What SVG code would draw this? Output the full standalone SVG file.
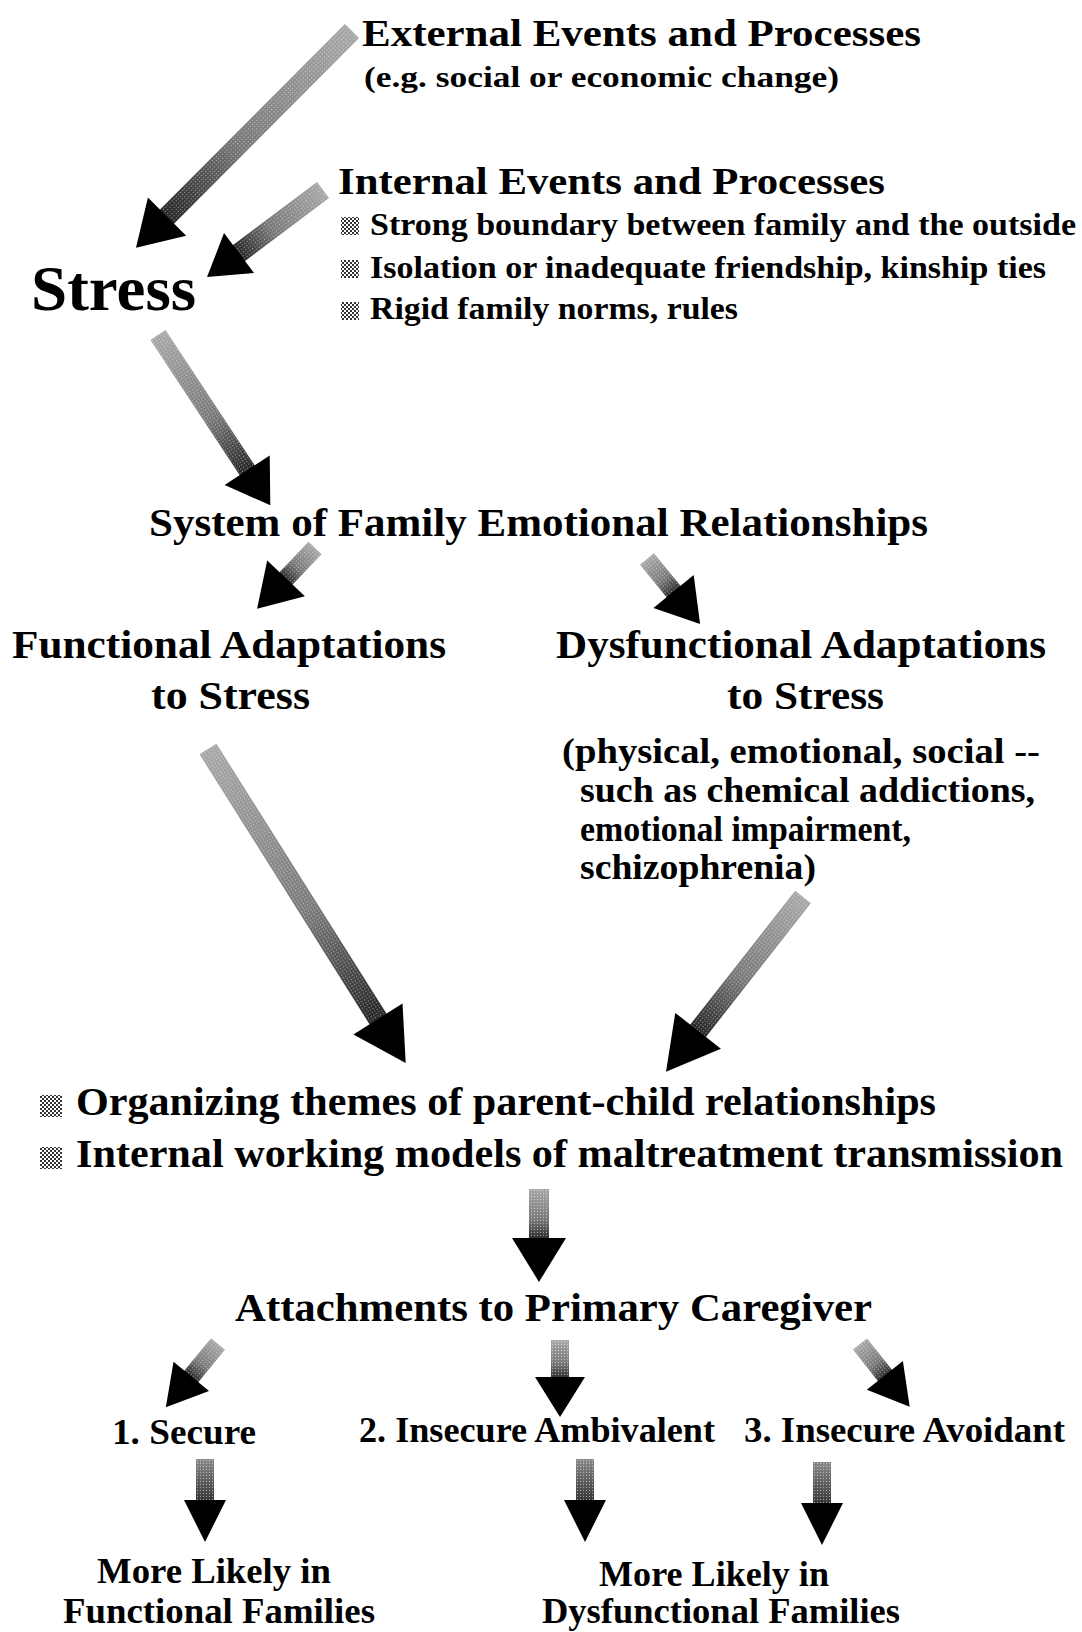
<svg xmlns="http://www.w3.org/2000/svg" width="1082" height="1632" viewBox="0 0 1082 1632">
<style>
text{font-family:"Liberation Serif","Times New Roman",serif;font-weight:bold;fill:#000}
.head{fill:#000}
.shaft{fill:url(#shaftGrad)}
.flat{fill:url(#flatGrad)}
.dots{fill:url(#dots)}
.bul{fill:url(#check)}
</style>
<defs>
<linearGradient id="shaftGrad" x1="0" y1="0" x2="1" y2="0">
<stop offset="0" stop-color="#a8a8a8"/>
<stop offset="0.6" stop-color="#7a7a7a"/>
<stop offset="1" stop-color="#262626"/>
</linearGradient>
<linearGradient id="flatGrad" x1="0" y1="0" x2="1" y2="0">
<stop offset="0" stop-color="#8a8a8a"/>
<stop offset="1" stop-color="#333"/>
</linearGradient>
<pattern id="dots" width="3" height="3" patternUnits="userSpaceOnUse">
<circle cx="1.5" cy="1.5" r="0.6" fill="#fff" fill-opacity="0.6"/>
</pattern>
<pattern id="check" width="4" height="4" patternUnits="userSpaceOnUse">
<rect width="4" height="4" fill="#fff"/>
<rect width="2" height="2" fill="#333"/>
<rect x="2" y="2" width="2" height="2" fill="#333"/>
</pattern>
</defs>

<g id="connectors">
<!-- External -> Stress -->
<g transform="translate(352,31) rotate(134.9)">
<rect class="shaft" x="0" y="-10" width="264" height="20"/><rect class="dots" x="0" y="-10" width="264" height="20"/>
<polygon class="head" points="262,-27 306,0 262,27"/>
</g>
<!-- Internal -> Stress -->
<g transform="translate(323,190) rotate(143.1)">
<rect class="shaft" x="0" y="-10" width="107" height="20"/><rect class="dots" x="0" y="-10" width="107" height="20"/>
<polygon class="head" points="105,-25 145,0 105,25"/>
</g>
<!-- Stress -> System -->
<g transform="translate(158,335) rotate(56.6)">
<rect class="shaft" x="0" y="-9" width="164" height="18"/><rect class="dots" x="0" y="-9" width="164" height="18"/>
<polygon class="head" points="162,-27 204,0 162,27"/>
</g>
<!-- System -> Functional -->
<g transform="translate(315,548) rotate(133.6)">
<rect class="shaft" x="0" y="-9" width="44" height="18"/><rect class="dots" x="0" y="-9" width="44" height="18"/>
<polygon class="head" points="42,-26 84,0 42,26"/>
</g>
<!-- System -> Dysfunctional -->
<g transform="translate(647,559) rotate(50.8)">
<rect class="shaft" x="0" y="-9" width="44" height="18"/><rect class="dots" x="0" y="-9" width="44" height="18"/>
<polygon class="head" points="42,-26 84,0 42,26"/>
</g>
<!-- Functional -> Organizing -->
<g transform="translate(208,749) rotate(57.8)">
<rect class="shaft" x="0" y="-10" width="321" height="20"/><rect class="dots" x="0" y="-10" width="321" height="20"/>
<polygon class="head" points="319,-29 371,0 319,29"/>
</g>
<!-- Dysfunctional -> Organizing -->
<g transform="translate(803,897) rotate(128.1)">
<rect class="shaft" x="0" y="-10" width="172" height="20"/><rect class="dots" x="0" y="-10" width="172" height="20"/>
<polygon class="head" points="170,-29 222,0 170,29"/>
</g>
<!-- Themes -> Attachments -->
<g transform="translate(539,1189) rotate(90)">
<rect class="shaft" x="0" y="-10" width="51" height="20"/><rect class="dots" x="0" y="-10" width="51" height="20"/>
<polygon class="head" points="49,-27 93,0 49,27"/>
</g>
<!-- Attachments -> Secure -->
<g transform="translate(218,1344) rotate(129.5)">
<rect class="shaft" x="0" y="-9" width="44" height="18"/><rect class="dots" x="0" y="-9" width="44" height="18"/>
<polygon class="head" points="42,-23 82,0 42,23"/>
</g>
<!-- Attachments -> Ambivalent -->
<g transform="translate(560,1340) rotate(90)">
<rect class="shaft" x="0" y="-9" width="39" height="18"/><rect class="dots" x="0" y="-9" width="39" height="18"/>
<polygon class="head" points="37,-25 77,0 37,25"/>
</g>
<!-- Attachments -> Avoidant -->
<g transform="translate(860,1344) rotate(51.6)">
<rect class="shaft" x="0" y="-9" width="42" height="18"/><rect class="dots" x="0" y="-9" width="42" height="18"/>
<polygon class="head" points="40,-23 80,0 40,23"/>
</g>
<!-- Secure -> Functional families -->
<g transform="translate(205,1459) rotate(90)">
<rect class="flat" x="0" y="-9" width="43" height="18"/><rect class="dots" x="0" y="-9" width="43" height="18"/>
<polygon class="head" points="41,-21 83,0 41,21"/>
</g>
<!-- Ambivalent -> Dysfunctional families -->
<g transform="translate(585,1459) rotate(90)">
<rect class="flat" x="0" y="-9" width="43" height="18"/><rect class="dots" x="0" y="-9" width="43" height="18"/>
<polygon class="head" points="41,-21 83,0 41,21"/>
</g>
<!-- Avoidant -> Dysfunctional families -->
<g transform="translate(822,1462) rotate(90)">
<rect class="flat" x="0" y="-9" width="43" height="18"/><rect class="dots" x="0" y="-9" width="43" height="18"/>
<polygon class="head" points="41,-21 83,0 41,21"/>
</g>
</g>

<g id="external">
<text x="362" y="46" font-size="38" textLength="559" lengthAdjust="spacingAndGlyphs">External Events and Processes</text>
<text x="364" y="87" font-size="30" textLength="475" lengthAdjust="spacingAndGlyphs">(e.g. social or economic change)</text>
</g>

<g id="internal">
<text x="338" y="194" font-size="38" textLength="547" lengthAdjust="spacingAndGlyphs">Internal Events and Processes</text>
<rect class="bul" x="341" y="217" width="18" height="18"/>
<text x="370" y="235" font-size="32" textLength="706" lengthAdjust="spacingAndGlyphs">Strong boundary between family and the outside</text>
<rect class="bul" x="341" y="260" width="18" height="18"/>
<text x="370" y="278" font-size="32" textLength="676" lengthAdjust="spacingAndGlyphs">Isolation or inadequate friendship, kinship ties</text>
<rect class="bul" x="341" y="302" width="18" height="18"/>
<text x="370" y="319" font-size="32" textLength="368" lengthAdjust="spacingAndGlyphs">Rigid family norms, rules</text>
</g>

<g id="stress">
<text x="31" y="310" font-size="64" textLength="165" lengthAdjust="spacingAndGlyphs">Stress</text>
</g>

<g id="system">
<text x="149" y="536" font-size="40" textLength="779" lengthAdjust="spacingAndGlyphs">System of Family Emotional Relationships</text>
</g>

<g id="functional">
<text x="12" y="658" font-size="40" textLength="434" lengthAdjust="spacingAndGlyphs">Functional Adaptations</text>
<text x="151" y="709" font-size="40" textLength="159" lengthAdjust="spacingAndGlyphs">to Stress</text>
</g>

<g id="dysfunctional">
<text x="556" y="658" font-size="40" textLength="490" lengthAdjust="spacingAndGlyphs">Dysfunctional Adaptations</text>
<text x="727" y="709" font-size="40" textLength="157" lengthAdjust="spacingAndGlyphs">to Stress</text>
<text x="562" y="763" font-size="35" textLength="478" lengthAdjust="spacingAndGlyphs">(physical, emotional, social --</text>
<text x="580" y="802" font-size="35" textLength="455" lengthAdjust="spacingAndGlyphs">such as chemical addictions,</text>
<text x="580" y="841" font-size="35" textLength="331" lengthAdjust="spacingAndGlyphs">emotional impairment,</text>
<text x="580" y="879" font-size="35" textLength="236" lengthAdjust="spacingAndGlyphs">schizophrenia)</text>
</g>

<g id="themes">
<rect class="bul" x="40" y="1095" width="22" height="22"/>
<text x="76" y="1115" font-size="40" textLength="860" lengthAdjust="spacingAndGlyphs">Organizing themes of parent-child relationships</text>
<rect class="bul" x="40" y="1147" width="22" height="22"/>
<text x="76" y="1167" font-size="40" textLength="987" lengthAdjust="spacingAndGlyphs">Internal working models of maltreatment transmission</text>
</g>

<g id="attachments">
<text x="235" y="1321" font-size="40" textLength="637" lengthAdjust="spacingAndGlyphs">Attachments to Primary Caregiver</text>
</g>

<g id="secure">
<text x="112" y="1444" font-size="35" textLength="144" lengthAdjust="spacingAndGlyphs">1. Secure</text>
</g>
<g id="ambivalent">
<text x="359" y="1442" font-size="35" textLength="356" lengthAdjust="spacingAndGlyphs">2. Insecure Ambivalent</text>
</g>
<g id="avoidant">
<text x="744" y="1442" font-size="35" textLength="321" lengthAdjust="spacingAndGlyphs">3. Insecure Avoidant</text>
</g>

<g id="functional-families">
<text x="97" y="1583" font-size="35" textLength="234" lengthAdjust="spacingAndGlyphs">More Likely in</text>
<text x="63" y="1623" font-size="35" textLength="312" lengthAdjust="spacingAndGlyphs">Functional Families</text>
</g>
<g id="dysfunctional-families">
<text x="599" y="1586" font-size="35" textLength="230" lengthAdjust="spacingAndGlyphs">More Likely in</text>
<text x="542" y="1623" font-size="35" textLength="358" lengthAdjust="spacingAndGlyphs">Dysfunctional Families</text>
</g>
</svg>
